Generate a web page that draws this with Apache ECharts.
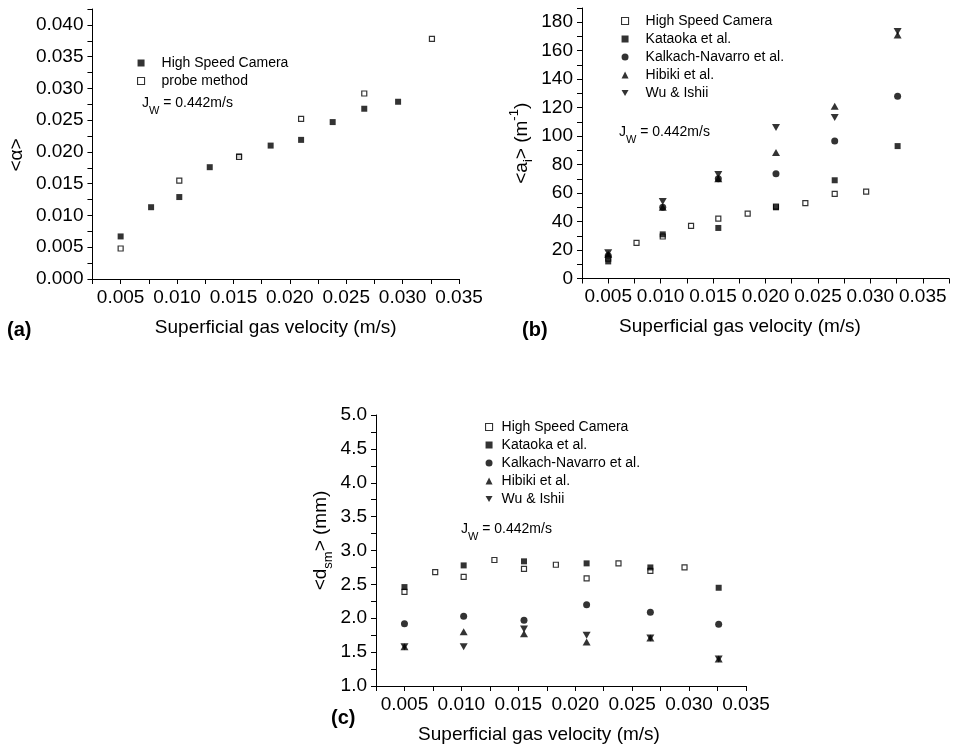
<!DOCTYPE html>
<html>
<head>
<meta charset="utf-8">
<title>Superficial gas velocity</title>
<script src="https://cdn.jsdelivr.net/npm/echarts@6/dist/echarts.min.js"></script>
<style>
    html, body { margin: 0; padding: 0; background: #fff; }
    #chart { width: 953px; height: 749px; }
</style>
</head>
<body>
<div id="chart"></div>
<script>
// superficial gas velocity (m/s)
const jgCamera = [0.0050, 0.0077, 0.0102, 0.0129, 0.0155, 0.0183, 0.0210, 0.0238, 0.0266, 0.0296];
const jgProbe = [0.0050, 0.0102, 0.0155, 0.0210, 0.0266, 0.0326];

// (a) void fraction <α>
const alphaCamera = [0.0067, 0.0113, 0.0129, 0.0176, 0.0193, 0.0210, 0.0219, 0.0247, 0.0268, 0.0279];
const alphaProbe = [0.0048, 0.0155, 0.0192, 0.0252, 0.0292, 0.0378];

// (b) interfacial area <ai> (m-1)
const aiCamera = [14, 25, 29.5, 37, 42, 45.5, 50.5, 53, 59.5, 61];
const aiKataoka = [12, 31, 35.5, 50, 69, 93];
const aiKalkach = [16, 50, 70, 73.5, 96.5, 128];
const aiHibiki = [17, 50, 70, 88.5, 121, 171];
const aiWu = [18, 54, 73, 106, 113, 173.5];

// (c) Sauter mean diameter <dsm> (mm)
const dsmCamera = [2.39, 2.68, 2.61, 2.86, 2.73, 2.79, 2.59, 2.81, 2.70, 2.75];
const dsmKataoka = [2.46, 2.78, 2.84, 2.81, 2.75, 2.45];
const dsmKalkach = [1.92, 2.03, 1.97, 2.20, 2.09, 1.91];
const dsmHibiki = [1.58, 1.80, 1.77, 1.65, 1.71, 1.40];
const dsmWu = [1.58, 1.58, 1.84, 1.75, 1.71, 1.40];

const FONT = 'Liberation Sans, Arial, sans-serif';
const DOWN_TRIANGLE = 'path://M0,0L8,0L4,7Z';

const pts = (xs, ys) => xs.map((x, i) => [x, ys[i]]);
// is v a multiple of step (float safe)
const onStep = (v, step) => Math.abs(v / step - Math.round(v / step)) < 1e-6;

// rich styles for sub/superscripts, every token same height so they line up
const richName = {
    n: { fontSize: 19, lineHeight: 20, padding: [6, 0, 6, 0], color: '#000', fontFamily: FONT },
    sub: { fontSize: 13, lineHeight: 14, padding: [16, 0, 2, 0], color: '#000', fontFamily: FONT },
    sup: { fontSize: 13, lineHeight: 14, padding: [2, 0, 16, 0], color: '#000', fontFamily: FONT }
};
const richJw = {
    n: { fontSize: 14, lineHeight: 16, verticalAlign: 'top', color: '#000', fontFamily: FONT },
    s: { fontSize: 11, lineHeight: 12, padding: [9, 0, 0, 0], verticalAlign: 'top', color: '#000', fontFamily: FONT }
};

const xAxisFor = (gridIndex, max, namePad) => ({
    type: 'value',
    gridIndex: gridIndex,
    min: 0.0025,
    max: max,
    interval: 0.0025,
    name: 'Superficial gas velocity (m/s)',
    nameLocation: 'middle',
    nameGap: 39,
    nameTextStyle: { fontSize: 19, color: '#000', fontFamily: FONT, padding: namePad },
    axisLine: { onZero: false, lineStyle: { color: '#000', width: 1 } },
    axisTick: { show: true, length: 5, lineStyle: { color: '#000' } },
    axisLabel: {
        color: '#000', fontSize: 19, fontFamily: FONT, margin: 9,
        formatter: v => onStep(v, 0.005) ? v.toFixed(3) : ''
    },
    splitLine: { show: false }
});

const yAxisFor = (gridIndex, min, max, step, major, digits, name, gap, namePad) => ({
    type: 'value',
    gridIndex: gridIndex,
    min: min,
    max: max,
    interval: step,
    name: name,
    nameLocation: 'middle',
    nameRotate: 90,
    nameGap: gap,
    nameTextStyle: { fontSize: 19, color: '#000', fontFamily: FONT, padding: namePad, rich: richName },
    axisLine: { onZero: false, lineStyle: { color: '#000', width: 1 } },
    axisTick: { show: true, length: 5, lineStyle: { color: '#000' } },
    axisLabel: {
        color: '#000', fontSize: 19, fontFamily: FONT, margin: 9,
        formatter: v => onStep(v, major) ? v.toFixed(digits) : ''
    },
    splitLine: { show: false }
});

const openSquare = { color: '#fff', borderColor: '#000', borderWidth: 1.2 };
const filled = { color: '#000' };

const scatter = (name, idx, data, symbol, size, style) => ({
    name: name,
    type: 'scatter',
    xAxisIndex: idx,
    yAxisIndex: idx,
    data: data,
    symbol: symbol,
    symbolSize: size,
    itemStyle: style,
    emphasis: { disabled: true }
});

// legend entry: down triangle icon for Wu & Ishii, thin border for the open squares
const legendItem = (n, openNames) => {
    if (n.endsWith('Wu & Ishii')) return { name: n, icon: DOWN_TRIANGLE };
    if (openNames.indexOf(n) >= 0) return { name: n, itemStyle: { borderWidth: 1.1 } };
    return n;
};

// icon box is 7x7, the text padding sets the gap between symbol and text
const legendFor = (names, openNames, left, top, textGap) => ({
    orient: 'vertical',
    left: left,
    top: top,
    itemWidth: 7,
    itemHeight: 7,
    itemGap: 4,
    selectedMode: false,
    data: names.map(n => legendItem(n, openNames)),
    formatter: name => name.slice(2),
    textStyle: { fontSize: 14, color: '#000', fontFamily: FONT, lineHeight: 14, padding: [0, 0, 0, textGap] }
});

const chart = echarts.init(document.getElementById('chart'));

const option = {
    animation: false,
    backgroundColor: '#fff',
    textStyle: { fontFamily: FONT },
    grid: [
        { left: 92, top: 9, width: 367, height: 270, containLabel: false },
        { left: 582, top: 8, width: 367, height: 270.5, containLabel: false },
        { left: 376, top: 415, width: 370, height: 271, containLabel: false }
    ],
    xAxis: [
        xAxisFor(0, 0.035, [0, 0, 0, 0]),
        xAxisFor(1, 0.0375, [0, 51, 0, 0]),
        xAxisFor(2, 0.035, [0, 44, 0, 0])
    ],
    yAxis: [
        yAxisFor(0, 0, 0.0425, 0.0025, 0.005, 3, '{n|<α>}', 58, [0, 22, 0, 0]),
        yAxisFor(1, 0, 190, 10, 20, 0, '{n|<a}{sub|i}{n|> (m}{sup|-1}{n|)}', 33, [0, 0, 0, 0]),
        yAxisFor(2, 1, 5, 0.25, 0.5, 1, '{n|<d}{sub|sm}{n|> (mm)}', 42, [0, 0, 0, 20])
    ],
    legend: [
        legendFor(['a:High Speed Camera', 'a:probe method'], ['a:probe method'], 132, 51, 12),
        legendFor(['b:High Speed Camera', 'b:Kataoka et al.', 'b:Kalkach-Navarro et al.', 'b:Hibiki et al.', 'b:Wu & Ishii'],
            ['b:High Speed Camera'], 616, 9, 12),
        legendFor(['c:High Speed Camera', 'c:Kataoka et al.', 'c:Kalkach-Navarro et al.', 'c:Hibiki et al.', 'c:Wu & Ishii'],
            ['c:High Speed Camera'], 480, 415, 4)
    ],
    series: [
        scatter('a:High Speed Camera', 0, pts(jgCamera, alphaCamera), 'rect', 6, filled),
        scatter('a:probe method', 0, pts(jgProbe, alphaProbe), 'rect', 5, openSquare),

        scatter('b:High Speed Camera', 1, pts(jgCamera, aiCamera), 'rect', 5, openSquare),
        scatter('b:Kataoka et al.', 1, pts(jgProbe, aiKataoka), 'rect', 6, filled),
        scatter('b:Kalkach-Navarro et al.', 1, pts(jgProbe, aiKalkach), 'circle', 7, filled),
        scatter('b:Hibiki et al.', 1, pts(jgProbe, aiHibiki), 'triangle', [8, 7], filled),
        scatter('b:Wu & Ishii', 1, pts(jgProbe, aiWu), DOWN_TRIANGLE, [8, 7], filled),

        scatter('c:High Speed Camera', 2, pts(jgCamera, dsmCamera), 'rect', 5, openSquare),
        scatter('c:Kataoka et al.', 2, pts(jgProbe, dsmKataoka), 'rect', 6, filled),
        scatter('c:Kalkach-Navarro et al.', 2, pts(jgProbe, dsmKalkach), 'circle', 7, filled),
        scatter('c:Hibiki et al.', 2, pts(jgProbe, dsmHibiki), 'triangle', [8, 7], filled),
        scatter('c:Wu & Ishii', 2, pts(jgProbe, dsmWu), DOWN_TRIANGLE, [8, 7], filled)
    ],
    graphic: [
        { type: 'text', x: 7, y: 330, style: { text: '(a)', font: 'bold 20px ' + FONT, fill: '#000', verticalAlign: 'middle' } },
        { type: 'text', x: 522, y: 330, style: { text: '(b)', font: 'bold 20px ' + FONT, fill: '#000', verticalAlign: 'middle' } },
        { type: 'text', x: 331, y: 718, style: { text: '(c)', font: 'bold 20px ' + FONT, fill: '#000', verticalAlign: 'middle' } },
        { type: 'text', x: 142, y: 96, style: { text: '{n|J}{s|W}{n| = 0.442m/s}', rich: richJw, verticalAlign: 'top' } },
        { type: 'text', x: 619, y: 125, style: { text: '{n|J}{s|W}{n| = 0.442m/s}', rich: richJw, verticalAlign: 'top' } },
        { type: 'text', x: 461, y: 522, style: { text: '{n|J}{s|W}{n| = 0.442m/s}', rich: richJw, verticalAlign: 'top' } }
    ]
};

chart.setOption(option);
</script>
</body>
</html>
